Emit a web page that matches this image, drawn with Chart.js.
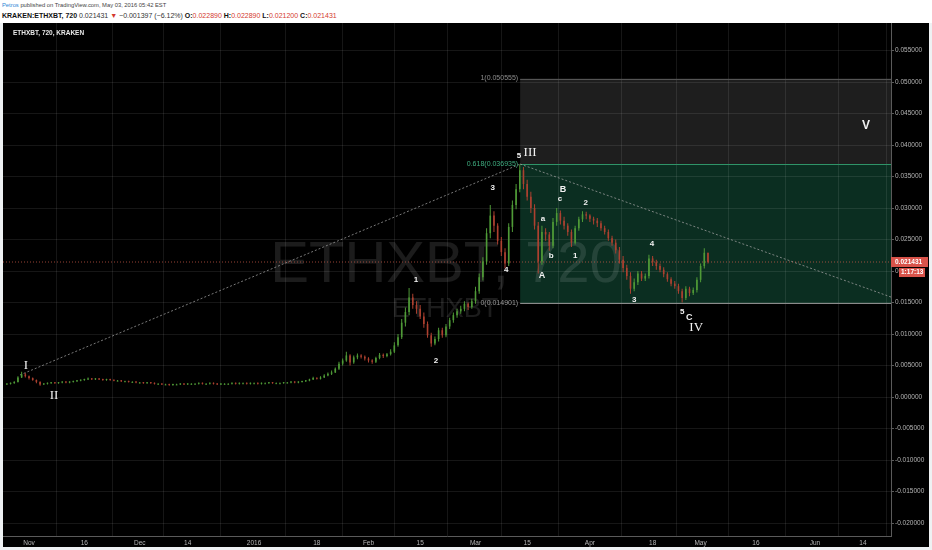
<!DOCTYPE html>
<html>
<head>
<meta charset="utf-8">
<script src="https://cdn.jsdelivr.net/npm/chart.js@4.4.0/dist/chart.umd.min.js"></script>
<style>
html, body { margin: 0; padding: 0; width: 932px; height: 550px; overflow: hidden; background: #eef1f3; font-family: "Liberation Sans", Arial, sans-serif; }
#hdr { position: absolute; left: 0; top: 0; width: 932px; height: 23px; background: #fff; }
#l1 { position: absolute; left: 2px; top: 2px; font-size: 5.8px; color: #444; white-space: nowrap; }
#l1 .au { color: #2f86d6; }
#l2 { position: absolute; left: 2px; top: 11.5px; font-size: 7px; color: #333; white-space: nowrap; }
#l2 b { color: #111; }
#l2 .r { color: #d43a2f; }
#wrap { position: absolute; left: 3px; top: 23px; width: 926px; height: 524px; background: #000; }
</style>
</head>
<body>
<div id="hdr">
  <div id="l1"><span class="au">Petros</span> published on TradingView.com, May 03, 2016 05:42 EST</div>
  <div id="l2"><b>KRAKEN:ETHXBT, 720</b> 0.021431 <span class="r">▼</span> −0.001397 (−6.12%) <b>O:</b><span class="r">0.022890</span> <b>H:</b><span class="r">0.022890</span> <b>L:</b><span class="r">0.021200</span> <b>C:</b><span class="r">0.021431</span></div>
</div>
<div id="wrap"><canvas id="c" width="926" height="524"></canvas></div>
<script>
// daily candles, day 0 = 1 Nov 2015, first candle = 26 Oct 2015
const startDay = -6;
const firstOpen = 0.0020;
const closes = [
  0.0021, 0.0022, 0.0024, 0.0031, 0.0036, 0.0033, 0.0030, 0.0027, 0.0024, 0.0020,
  0.0021, 0.0022, 0.0023, 0.0022, 0.0023, 0.0024, 0.0023, 0.0024, 0.0025, 0.0026,
  0.0027, 0.0028, 0.0029, 0.0028, 0.0029, 0.0028, 0.0027, 0.0028, 0.0027, 0.0026,
  0.0026, 0.0025, 0.0025, 0.0024, 0.0024, 0.0023, 0.0023, 0.0022, 0.0023, 0.0022,
  0.0021, 0.0021, 0.0020, 0.0020, 0.0019, 0.0020, 0.0020, 0.0021, 0.0020, 0.0021,
  0.0021, 0.0021, 0.0022, 0.0021, 0.0021, 0.0022, 0.0021, 0.0020, 0.0021, 0.0021,
  0.0021, 0.0022, 0.0021, 0.0022, 0.0022, 0.0021, 0.0022, 0.0022, 0.0021, 0.0022,
  0.0022, 0.0023, 0.0022, 0.0022, 0.0022, 0.0023, 0.0023, 0.0024, 0.0023, 0.0024,
  0.0025, 0.0026, 0.0028, 0.0030, 0.0029, 0.0031, 0.0034, 0.0037, 0.0039, 0.0045,
  0.0053, 0.0058, 0.0066, 0.0055, 0.0063, 0.0066, 0.0064, 0.0061, 0.0058, 0.0056,
  0.0062, 0.0067, 0.0065, 0.0068, 0.0072, 0.0082, 0.0095, 0.0118, 0.0135, 0.0158,
  0.0146, 0.0140, 0.0128, 0.0116, 0.0098, 0.0085, 0.0092, 0.0106, 0.0098, 0.0112,
  0.0122, 0.0130, 0.0136, 0.0140, 0.0148, 0.0143, 0.0152, 0.0168, 0.0190, 0.0215,
  0.0260, 0.0288, 0.0272, 0.0248, 0.0230, 0.0212, 0.0270, 0.0305, 0.0330, 0.0360,
  0.0338, 0.0318, 0.0300, 0.0272, 0.0215, 0.0262, 0.0258, 0.0240, 0.0278, 0.0292,
  0.0280, 0.0272, 0.0262, 0.0245, 0.0268, 0.0282, 0.0290, 0.0288, 0.0283, 0.0280,
  0.0276, 0.0268, 0.0262, 0.0252, 0.0245, 0.0233, 0.0218, 0.0205, 0.0192, 0.0172,
  0.0182, 0.0196, 0.0188, 0.0192, 0.0220, 0.0214, 0.0208, 0.0202, 0.0195, 0.0187,
  0.0180, 0.0176, 0.0168, 0.0157, 0.0172, 0.0165, 0.0170, 0.0186, 0.0208, 0.0229, 0.021431
];
const highs = [
  0.0022, 0.0023, 0.0025, 0.0033, 0.0040, 0.0038, 0.0034, 0.0031, 0.0028, 0.0025,
  0.0022, 0.0023, 0.0024, 0.0024, 0.0024, 0.0025, 0.0025, 0.0025, 0.0026, 0.0027,
  0.0028, 0.0029, 0.0031, 0.0030, 0.0030, 0.0030, 0.0029, 0.0029, 0.0029, 0.0028,
  0.0027, 0.0027, 0.0026, 0.0026, 0.0025, 0.0025, 0.0024, 0.0024, 0.0024, 0.0024,
  0.0023, 0.0022, 0.0022, 0.0021, 0.0021, 0.0021, 0.0021, 0.0022, 0.0022, 0.0022,
  0.0022, 0.0022, 0.0023, 0.0023, 0.0022, 0.0023, 0.0023, 0.0022, 0.0022, 0.0022,
  0.0022, 0.0023, 0.0023, 0.0023, 0.0023, 0.0023, 0.0023, 0.0023, 0.0023, 0.0023,
  0.0023, 0.0024, 0.0024, 0.0023, 0.0023, 0.0024, 0.0024, 0.0025, 0.0025, 0.0025,
  0.0026, 0.0027, 0.0029, 0.0032, 0.0031, 0.0033, 0.0036, 0.0039, 0.0042, 0.0047,
  0.0056, 0.0061, 0.0072, 0.0068, 0.0066, 0.0069, 0.0068, 0.0066, 0.0063, 0.0060,
  0.0064, 0.0070, 0.0069, 0.0070, 0.0076, 0.0087, 0.0100, 0.0124, 0.0142, 0.0173,
  0.0164, 0.0152, 0.0146, 0.0134, 0.0120, 0.0102, 0.0096, 0.0110, 0.0110, 0.0116,
  0.0126, 0.0134, 0.0140, 0.0145, 0.0152, 0.0150, 0.0156, 0.0175, 0.0196, 0.0222,
  0.0268, 0.0305, 0.0295, 0.0276, 0.0254, 0.0236, 0.0276, 0.0312, 0.0338, 0.0369,
  0.0365, 0.0345, 0.0326, 0.0306, 0.0278, 0.0272, 0.0268, 0.0262, 0.0284, 0.0300,
  0.0296, 0.0286, 0.0276, 0.0266, 0.0272, 0.0286, 0.0295, 0.0294, 0.0290, 0.0286,
  0.0284, 0.0280, 0.0272, 0.0266, 0.0256, 0.0250, 0.0238, 0.0224, 0.0210, 0.0198,
  0.0188, 0.0200, 0.0200, 0.0196, 0.0226, 0.0224, 0.0218, 0.0212, 0.0206, 0.0198,
  0.0190, 0.0184, 0.0180, 0.0172, 0.0176, 0.0175, 0.0174, 0.0190, 0.0212, 0.0236, 0.0229
];
const lows = [
  0.0019, 0.0020, 0.0021, 0.0023, 0.0030, 0.0031, 0.0028, 0.0026, 0.0022, 0.0018,
  0.0019, 0.0020, 0.0021, 0.0021, 0.0021, 0.0022, 0.0022, 0.0022, 0.0023, 0.0024,
  0.0025, 0.0026, 0.0027, 0.0027, 0.0027, 0.0027, 0.0026, 0.0026, 0.0026, 0.0025,
  0.0025, 0.0024, 0.0024, 0.0023, 0.0023, 0.0022, 0.0022, 0.0021, 0.0021, 0.0021,
  0.0020, 0.0020, 0.0019, 0.0019, 0.0018, 0.0018, 0.0019, 0.0019, 0.0019, 0.0019,
  0.0020, 0.0020, 0.0020, 0.0020, 0.0020, 0.0020, 0.0020, 0.0019, 0.0019, 0.0020,
  0.0020, 0.0020, 0.0020, 0.0020, 0.0021, 0.0020, 0.0020, 0.0021, 0.0020, 0.0020,
  0.0021, 0.0021, 0.0021, 0.0021, 0.0021, 0.0021, 0.0022, 0.0022, 0.0022, 0.0022,
  0.0023, 0.0024, 0.0025, 0.0027, 0.0028, 0.0028, 0.0030, 0.0033, 0.0035, 0.0038,
  0.0043, 0.0050, 0.0056, 0.0050, 0.0053, 0.0060, 0.0061, 0.0058, 0.0055, 0.0053,
  0.0054, 0.0060, 0.0062, 0.0063, 0.0066, 0.0070, 0.0080, 0.0092, 0.0112, 0.0130,
  0.0140, 0.0132, 0.0124, 0.0110, 0.0094, 0.0080, 0.0082, 0.0088, 0.0094, 0.0095,
  0.0108, 0.0118, 0.0126, 0.0132, 0.0136, 0.0138, 0.0140, 0.0148, 0.0164, 0.0185,
  0.0210, 0.0252, 0.0262, 0.0242, 0.0224, 0.0204, 0.0208, 0.0262, 0.0298, 0.0325,
  0.0330, 0.0312, 0.0292, 0.0266, 0.0196, 0.0210, 0.0248, 0.0232, 0.0236, 0.0272,
  0.0274, 0.0266, 0.0256, 0.0238, 0.0242, 0.0264, 0.0278, 0.0282, 0.0278, 0.0274,
  0.0270, 0.0264, 0.0258, 0.0248, 0.0240, 0.0228, 0.0212, 0.0198, 0.0186, 0.0164,
  0.0168, 0.0178, 0.0184, 0.0184, 0.0188, 0.0208, 0.0202, 0.0198, 0.0190, 0.0183,
  0.0176, 0.0172, 0.0164, 0.0150, 0.0154, 0.0160, 0.0162, 0.0166, 0.0182, 0.0204, 0.0212
];

// axes
const xMin = -7.05, xMax = 233.6;
const xTickDays = [0, 15, 30, 43, 61, 78, 92, 106, 121, 135, 152, 169, 182, 197, 213, 226];
const xTickLabels = ['Nov', '16', 'Dec', '14', '2016', '18', 'Feb', '15', 'Mar', '15', 'Apr', '18', 'May', '16', 'Jun', '14'];
const yMin = -0.02206, yMax = 0.05937;
const yTicks = [-0.020, -0.015, -0.010, -0.005, 0, 0.005, 0.010, 0.015, 0.020, 0.025, 0.030, 0.035, 0.040, 0.045, 0.050, 0.055];

// drawings
const fibStartDay = 133.1;
const fibRatios = ['1', '0.618', '0'];
const fibValues = [0.050555, 0.036935, 0.014901];
const trendUp = [[-2.44, 0.0035], [133.1, 0.03698]];
const trendDown = [[133.1, 0.03698], [233.6, 0.01587]];
const lastPrice = 0.021431;
const countdown = '1:17:13';
const waveLabels = [
  ['I', -0.81, 0.00492, 'major'],
  ['II', 6.78, 0.00016, 'major'],
  ['1', 104.9, 0.01857, 'minor'],
  ['2', 110.3, 0.00571, 'minor'],
  ['3', 125.7, 0.03317, 'minor'],
  ['4', 129.3, 0.02016, 'minor'],
  ['5', 132.8, 0.03825, 'minor'],
  ['III', 135.8, 0.03873, 'major'],
  ['a', 139.3, 0.02825, 'minor'],
  ['b', 141.5, 0.02238, 'minor'],
  ['c', 143.9, 0.03143, 'minor'],
  ['B', 144.7, 0.03286, 'letter'],
  ['A', 139.0, 0.01921, 'letter'],
  ['1', 148.0, 0.02238, 'minor'],
  ['2', 150.9, 0.03079, 'minor'],
  ['3', 164.0, 0.0154, 'minor'],
  ['4', 168.8, 0.02429, 'minor'],
  ['5', 177.0, 0.01349, 'minor'],
  ['C', 178.9, 0.0127, 'letter'],
  ['IV', 180.8, 0.01095, 'major'],
  ['V', 226.8, 0.04302, 'majorSans']
];

const UP = '#4f9a37', DOWN = '#ad4130';
const GRID = 'rgba(255,255,255,0.085)';
const SANS = '"Liberation Sans", Arial, sans-serif';
const labelFonts = {
  major: '13px "Liberation Serif", serif',
  majorSans: 'bold 12px ' + SANS,
  minor: 'bold 8px ' + SANS,
  letter: 'bold 9px ' + SANS
};

const candles = closes.map((c, i) => ({
  x: startDay + i,
  o: i === 0 ? firstOpen : closes[i - 1],
  h: highs[i],
  l: lows[i],
  c: c
}));
const candleColors = candles.map(k => k.c >= k.o ? UP : DOWN);

// fib boxes under the grid
const boxesPlugin = {
  id: 'boxes',
  beforeDraw(chart) {
    const { ctx, chartArea: a, scales: { x, y } } = chart;
    const left = x.getPixelForValue(fibStartDay);
    const p = fibValues.map(v => y.getPixelForValue(v));
    ctx.save();
    ctx.fillStyle = '#1e1e1e';
    ctx.fillRect(left, p[0], a.right - left, p[1] - p[0]);
    ctx.fillStyle = 'rgba(30,120,88,0.38)';
    ctx.fillRect(left, p[1], a.right - left, p[2] - p[1]);
    ctx.restore();
  },
  beforeDatasetsDraw(chart) {
    const { ctx, chartArea: a, scales: { x, y } } = chart;
    ctx.save();
    // watermark
    ctx.fillStyle = 'rgba(255,255,255,0.11)';
    ctx.textAlign = 'center';
    ctx.textBaseline = 'alphabetic';
    ctx.font = '58px ' + SANS;
    ctx.fillText('ETHXBT, 720', 443, 259);
    ctx.font = '27px ' + SANS;
    ctx.fillText('ETHXBT', 442, 294);
    // fib level lines
    const left = x.getPixelForValue(fibStartDay);
    const lineColors = ['#555555', '#2f9468', '#8a8a8a'];
    fibValues.forEach((v, i) => {
      const py = Math.round(y.getPixelForValue(v)) + 0.5;
      ctx.strokeStyle = lineColors[i];
      ctx.lineWidth = 1;
      ctx.beginPath();
      ctx.moveTo(left, py);
      ctx.lineTo(a.right, py);
      ctx.stroke();
    });
    ctx.restore();
  },
  afterDraw(chart) {
    const { ctx, chartArea: a, scales: { x, y } } = chart;
    ctx.save();
    // fib labels
    const left = x.getPixelForValue(fibStartDay);
    const txtColors = ['#8d8d8d', '#3fae80', '#9a9a9a'];
    ctx.font = '7px ' + SANS;
    ctx.textAlign = 'right';
    ctx.textBaseline = 'middle';
    fibValues.forEach((v, i) => {
      ctx.fillStyle = txtColors[i];
      ctx.fillText(fibRatios[i] + '(' + v.toFixed(6) + ')', left - 2, y.getPixelForValue(v));
    });
    // wave labels
    ctx.textAlign = 'center';
    ctx.fillStyle = '#f2f2f2';
    waveLabels.forEach(([t, d, v, kind]) => {
      ctx.font = labelFonts[kind];
      ctx.fillText(t, x.getPixelForValue(d), y.getPixelForValue(v));
    });
    // symbol label
    ctx.textAlign = 'left';
    ctx.font = 'bold 6.5px ' + SANS;
    ctx.fillStyle = '#e8e8e8';
    ctx.fillText('ETHXBT, 720, KRAKEN', 10, 10);
    // last price tag
    const py = y.getPixelForValue(lastPrice);
    ctx.fillStyle = '#d9534a';
    ctx.fillRect(a.right, py - 5, 37, 10);
    ctx.fillRect(a.right + 8, py + 6, 26, 9);
    ctx.fillStyle = '#ffffff';
    ctx.font = 'bold 6.5px ' + SANS;
    ctx.fillText(lastPrice.toFixed(6), a.right + 4, py);
    ctx.fillText(countdown, a.right + 10, py + 10.5);
    ctx.restore();
  }
};

new Chart(document.getElementById('c'), {
  type: 'bar',
  data: {
    datasets: [
      {
        type: 'line',
        data: trendUp.map(p => ({ x: p[0], y: p[1] })),
        borderColor: 'rgba(160,160,160,0.75)',
        borderWidth: 1,
        borderDash: [2, 2],
        pointRadius: 0,
        order: 5
      },
      {
        type: 'line',
        data: trendDown.map(p => ({ x: p[0], y: p[1] })),
        borderColor: 'rgba(160,160,160,0.75)',
        borderWidth: 1,
        borderDash: [2, 2],
        pointRadius: 0,
        order: 5
      },
      {
        type: 'line',
        data: [{ x: xMin, y: lastPrice }, { x: xMax, y: lastPrice }],
        borderColor: 'rgba(215,95,75,0.7)',
        borderWidth: 1,
        borderDash: [1, 2],
        pointRadius: 0,
        order: 4
      },
      {
        label: 'wick',
        data: candles.map(k => ({ x: k.x, y: [k.l, k.h] })),
        backgroundColor: candleColors,
        barThickness: 1,
        grouped: false,
        borderWidth: 0,
        inflateAmount: 0,
        order: 2
      },
      {
        label: 'body',
        data: candles.map(k => ({ x: k.x, y: [k.o, k.c] })),
        backgroundColor: candleColors,
        barThickness: 1.6,
        minBarLength: 1,
        grouped: false,
        borderWidth: 0,
        inflateAmount: 0,
        order: 1
      }
    ]
  },
  options: {
    responsive: false,
    animation: false,
    events: [],
    layout: { padding: 0 },
    plugins: { legend: { display: false }, tooltip: { enabled: false } },
    scales: {
      x: {
        type: 'linear',
        min: xMin,
        max: xMax,
        offset: false,
        grid: { color: GRID, drawTicks: false },
        border: { display: true, color: '#5a5a5a' },
        ticks: {
          color: '#b4b4b4',
          font: { size: 6.5, family: SANS },
          padding: 3,
          maxRotation: 0,
          autoSkip: false,
          callback: v => xTickLabels[xTickDays.indexOf(v)]
        },
        afterBuildTicks: s => { s.ticks = xTickDays.map(v => ({ value: v })); },
        afterFit: s => { s.height = 11; s.paddingLeft = 0; s.paddingRight = 0; }
      },
      y: {
        position: 'right',
        min: yMin,
        max: yMax,
        grid: { color: GRID, tickLength: 3, tickColor: '#5a5a5a' },
        border: { display: true, color: '#5a5a5a' },
        ticks: {
          color: '#b4b4b4',
          font: { size: 6.5, family: SANS },
          padding: 1,
          autoSkip: false,
          callback: v => Math.abs(v) < 1e-9 ? '0.000000' : v.toFixed(6)
        },
        afterBuildTicks: s => { s.ticks = yTicks.map(v => ({ value: v })); },
        afterFit: s => { s.width = 38; s.paddingTop = 0; s.paddingBottom = 0; }
      }
    }
  },
  plugins: [boxesPlugin]
});
</script>
</body>
</html>
